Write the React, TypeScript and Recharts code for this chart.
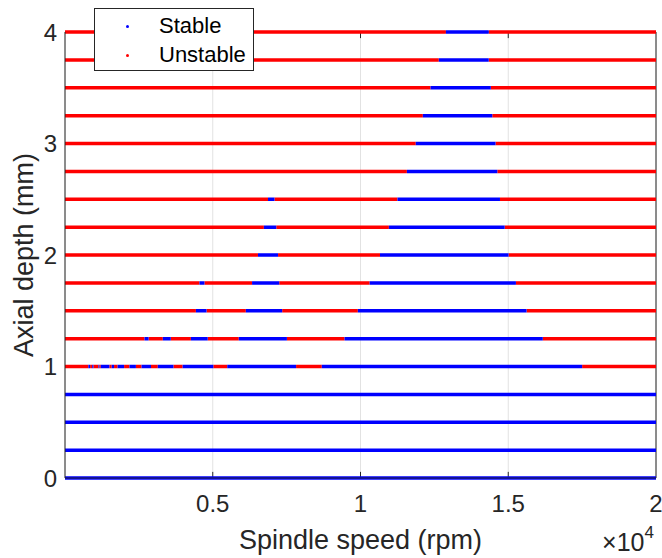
import React from "react";
import {
  LineChart,
  Line,
  XAxis,
  YAxis,
  CartesianGrid,
  ReferenceLine,
  Label,
} from "recharts";

const depths = [0, 0.25, 0.5, 0.75, 1, 1.25, 1.5, 1.75, 2, 2.25, 2.5, 2.75, 3, 3.25, 3.5, 3.75, 4];

// stable spindle-speed bands (rpm) for each depth above; the rest is unstable
const stableBands: number[][][] = [
  [[0, 20000]],
  [[0, 20000]],
  [[0, 20000]],
  [[0, 20000]],
  [
    [790, 850], [920, 960], [1130, 1160], [1210, 1500], [1580, 1660],
    [1780, 2000], [2180, 2400], [2590, 2910], [3140, 3670], [3980, 5020],
    [5490, 7820], [8690, 17500],
  ],
  [[2690, 2830], [3310, 3580], [4260, 4830], [5880, 7510], [9460, 16170]],
  [[4430, 4790], [6120, 7350], [9910, 15620]],
  [[4550, 4720], [6330, 7250], [10310, 15260]],
  [[6530, 7210], [10660, 15010]],
  [[6730, 7150], [10960, 14880]],
  [[6870, 7090], [11250, 14720]],
  [[11570, 14630]],
  [[11870, 14570]],
  [[12110, 14460]],
  [[12370, 14410]],
  [[12650, 14340]],
  [[12890, 14340]],
];

const speedMin = 0;
const speedMax = 20000;
const xTicks = [5000, 10000, 15000, 20000];
const yTicks = [0, 1, 2, 3, 4];

type Pt = { x: number; y: number | null };

const stableData: Pt[] = [];
const unstableData: Pt[] = [];

depths.forEach((d, i) => {
  let cursor = speedMin;
  stableBands[i].forEach(([a, b]) => {
    if (a > cursor) {
      unstableData.push({ x: cursor, y: d }, { x: a, y: d }, { x: a, y: null });
    }
    stableData.push({ x: a, y: d }, { x: b, y: d }, { x: b, y: null });
    cursor = b;
  });
  if (cursor < speedMax) {
    unstableData.push({ x: cursor, y: d }, { x: speedMax, y: d }, { x: speedMax, y: null });
  }
});

const FONT = "'Liberation Sans', Arial, Helvetica, sans-serif";
const INK = "#262626";

const XLabel = (props: any) => {
  const { x, y, width, height } = props.viewBox;
  return (
    <g fontFamily={FONT} fill={INK}>
      <text x={x + width / 2} y={y + height - 9} fontSize={27} textAnchor="middle">
        Spindle speed (rpm)
      </text>
      <text x={x + width - 2} y={y + height - 7} fontSize={25} textAnchor="end">
        ×10
        <tspan fontSize={17} dy={-13}>4</tspan>
      </text>
    </g>
  );
};

const YLabel = (props: any) => {
  const { y, height } = props.viewBox;
  const cx = 33;
  const cy = y + height / 2;
  return (
    <text
      x={cx}
      y={cy}
      fontSize={27}
      fontFamily={FONT}
      fill={INK}
      textAnchor="middle"
      transform={`rotate(-90, ${cx}, ${cy})`}
    >
      Axial depth (mm)
    </text>
  );
};

export default function App() {
  return (
    <div style={{ position: "absolute", left: 0, top: 0, width: 662, height: 558, background: "#fff", fontFamily: FONT }}>
      <LineChart width={662} height={558} margin={{ top: 32, right: 6, bottom: 0, left: 0 }}>
        <CartesianGrid horizontal={false} stroke="#e2e2e2" />
        <XAxis
          type="number"
          dataKey="x"
          domain={[speedMin, speedMax]}
          ticks={xTicks}
          interval={0}
          height={80}
          tickSize={0}
          tickMargin={17}
          tickLine={false}
          axisLine={{ stroke: INK }}
          tick={{ fill: INK, fontSize: 24, fontFamily: FONT }}
          tickFormatter={(v: number) => String(v / 10000)}
        >
          <Label content={<XLabel />} />
        </XAxis>
        <YAxis
          type="number"
          domain={[0, 4]}
          ticks={yTicks}
          interval={0}
          width={65}
          tickSize={0}
          tickMargin={8}
          tickLine={false}
          axisLine={{ stroke: INK }}
          tick={{ fill: INK, fontSize: 24, fontFamily: FONT }}
        >
          <Label content={<YLabel />} />
        </YAxis>
        <ReferenceLine x={speedMax} stroke={INK} />
        <ReferenceLine y={4} stroke={INK} />
        {xTicks.slice(0, 3).map((t) => (
          <ReferenceLine key={"b" + t} segment={[{ x: t, y: 0 }, { x: t, y: 0.055 }]} stroke={INK} />
        ))}
        {xTicks.slice(0, 3).map((t) => (
          <ReferenceLine key={"t" + t} segment={[{ x: t, y: 4 }, { x: t, y: 3.945 }]} stroke={INK} />
        ))}
        <Line
          data={unstableData}
          dataKey="y"
          name="Unstable"
          stroke="#ff0000"
          strokeWidth={3.5}
          dot={false}
          activeDot={false}
          connectNulls={false}
          isAnimationActive={false}
          type="linear"
        />
        <Line
          data={stableData}
          dataKey="y"
          name="Stable"
          stroke="#0000ff"
          strokeWidth={3.5}
          dot={false}
          activeDot={false}
          connectNulls={false}
          isAnimationActive={false}
          type="linear"
        />
      </LineChart>
      <div
        style={{
          position: "absolute",
          left: 94,
          top: 8,
          width: 158,
          height: 61,
          background: "#fff",
          border: "1px solid #262626",
          fontSize: 22,
          color: "#000",
        }}
      >
        {[
          { name: "Stable", color: "#0000ff", top: 17 },
          { name: "Unstable", color: "#ff0000", top: 46 },
        ].map((it) => (
          <React.Fragment key={it.name}>
            <div
              style={{
                position: "absolute",
                left: 31,
                top: it.top - 1,
                width: 3,
                height: 3,
                borderRadius: 2,
                background: it.color,
              }}
            />
            <div style={{ position: "absolute", left: 64, top: it.top - 13, lineHeight: "26px", whiteSpace: "nowrap" }}>
              {it.name}
            </div>
          </React.Fragment>
        ))}
      </div>
    </div>
  );
}
